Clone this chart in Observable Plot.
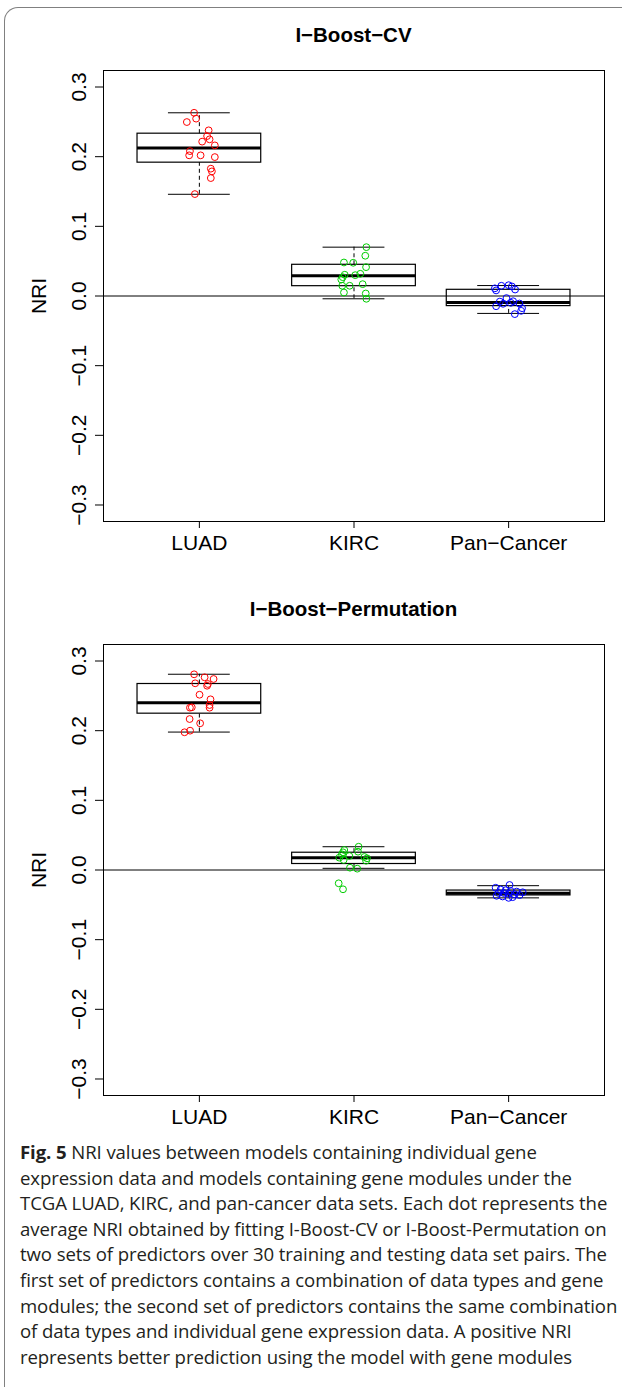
<!DOCTYPE html>
<html><head><meta charset="utf-8">
<script src="https://cdn.jsdelivr.net/npm/d3@7"></script>
<script src="https://cdn.jsdelivr.net/npm/@observablehq/plot@0.6"></script>
<style>
body{margin:0;background:#fff;}
#wrap{position:relative;width:622px;height:1387px;overflow:hidden;background:#fff;}
.frame{position:absolute;left:4px;top:7px;width:700px;height:1500px;border-left:1.5px solid #808080;border-top:1.5px solid #808080;border-top-left-radius:14px;}
.title{position:absolute;left:103px;width:501px;text-align:center;font-family:"Liberation Sans",Arial,sans-serif;font-weight:bold;font-size:20.5px;line-height:24px;color:#000;}
.panel{position:absolute;left:0;}
#caption{position:absolute;left:20px;top:1139px;font-family:"Open Sans",sans-serif;font-size:18.6px;line-height:25.6px;color:#231f20;white-space:nowrap;letter-spacing:-0.1px;}
#caption div{height:25.6px;}
</style>
</head><body><div id="wrap">
<div class="frame"></div>
<div class="title" style="top:23px">I−Boost−CV</div>
<div class="panel" id="p1" style="top:55px"></div>
<div class="title" style="top:597px">I−Boost−Permutation</div>
<div class="panel" id="p2" style="top:629px"></div>
<div id="caption"></div>
</div>
<script>
// categories and colours
const groups = ["LUAD", "KIRC", "Pan−Cancer"];
const groupColors = ["#FF0000", "#00CD00", "#0000FF"];
const yTicks = [-0.3, -0.2, -0.1, 0, 0.1, 0.2, 0.3];

// I-Boost-CV: NRI values per data set, horizontal jitter (in group units)
const cvLUAD = [0.263, 0.2546, 0.2497, 0.2378, 0.2296, 0.2249, 0.2216, 0.2162, 0.208, 0.2019, 0.2019, 0.1994, 0.1828, 0.1789, 0.1693, 0.1463];
const cvLUADJitter = [-0.034, -0.021, -0.081, 0.060, 0.050, 0.066, 0.018, 0.100, -0.061, -0.066, 0.008, 0.100, 0.074, 0.081, 0.074, -0.029];
const cvKIRC = [0.0701, 0.0578, 0.0481, 0.0477, 0.0414, 0.0319, 0.0305, 0.0299, 0.027, 0.0237, 0.017, 0.0147, 0.0147, 0.005, 0.0036, -0.004];
const cvKIRCJitter = [0.080, 0.073, -0.065, -0.005, 0.078, 0.041, -0.060, 0.008, -0.073, -0.082, 0.056, -0.028, -0.076, -0.065, 0.076, 0.080];
const cvPan = [0.0155, 0.0147, 0.0137, 0.011, 0.0093, 0.008, -0.003, -0.0075, -0.008, -0.0098, -0.0108, -0.0112, -0.0147, -0.0175, -0.0213, -0.026];
const cvPanJitter = [0.000, -0.047, 0.021, -0.089, 0.042, -0.081, -0.014, 0.029, -0.057, 0.014, 0.070, -0.036, -0.081, 0.087, 0.081, 0.040];
// box statistics [lower whisker, Q1, median, Q3, upper whisker]
const cvBoxLUAD = [0.146, 0.1914, 0.2124, 0.233, 0.263];
const cvBoxKIRC = [-0.004, 0.0141, 0.029, 0.0448, 0.0701];
const cvBoxPan = [-0.025, -0.0145, -0.0093, 0.0089, 0.015];

// I-Boost-Permutation
const permLUAD = [0.2809, 0.2766, 0.2742, 0.268, 0.2645, 0.267, 0.2516, 0.245, 0.2368, 0.233, 0.233, 0.2335, 0.2167, 0.2106, 0.2, 0.1977];
const permLUADJitter = [-0.034, 0.034, 0.092, -0.027, 0.050, 0.055, 0.001, 0.072, 0.066, 0.066, -0.061, -0.049, -0.063, 0.005, -0.060, -0.096];
const permKIRC = [0.0334, 0.0263, 0.0287, 0.0254, 0.0225, 0.0201, 0.0177, 0.0144, 0.0187, 0.0168, 0.0133, 0.0033, 0.0019, -0.0191, -0.0277];
const permKIRCJitter = [0.030, 0.026, -0.063, -0.071, -0.078, -0.030, -0.095, -0.067, 0.067, 0.084, 0.078, -0.026, 0.021, -0.099, -0.071];
const permPan = [-0.0215, -0.0255, -0.028, -0.029, -0.030, -0.031, -0.032, -0.033, -0.033, -0.034, -0.035, -0.036, -0.037, -0.038, -0.039, -0.040];
const permPanJitter = [0.006, -0.084, -0.052, -0.019, 0.013, 0.052, 0.091, -0.065, -0.032, 0.000, 0.039, 0.071, -0.078, -0.039, 0.026, 0.000];
const permBoxLUAD = [0.198, 0.2244, 0.240, 0.267, 0.281];
const permBoxKIRC = [0.0024, 0.0086, 0.0177, 0.0248, 0.0334];
const permBoxPan = [-0.040, -0.0365, -0.0335, -0.0295, -0.0225];

const captionLines = [
  ["Fig. 5", " NRI values between models containing individual gene"],
  ["", "expression data and models containing gene modules under the"],
  ["", "TCGA LUAD, KIRC, and pan-cancer data sets. Each dot represents the"],
  ["", "average NRI obtained by fitting I-Boost-CV or I-Boost-Permutation on"],
  ["", "two sets of predictors over 30 training and testing data set pairs. The"],
  ["", "first set of predictors contains a combination of data types and gene"],
  ["", "modules; the second set of predictors contains the same combination"],
  ["", "of data types and individual gene expression data. A positive NRI"],
  ["", "represents better prediction using the model with gene modules"]
];

function panel(values, jitters, stats) {
  const pts = [];
  groups.forEach((g, i) => values[i].forEach((v, j) => pts.push({pos: i + 1, xj: i + 1 + jitters[i][j], y: v, col: groupColors[i]})));
  const boxes = groups.map((g, i) => ({pos: i + 1, lo: stats[i][0], q1: stats[i][1], med: stats[i][2], q3: stats[i][3], hi: stats[i][4]}));
  return Plot.plot({
    width: 622, height: 509,
    marginTop: 15, marginBottom: 43, marginLeft: 103, marginRight: 18,
    x: {domain: [0.38, 3.62]},
    y: {domain: [-0.3237, 0.3237]},
    color: {type: "identity"},
    style: {fontFamily: "'Liberation Sans', Arial, sans-serif", fontSize: "21px", color: "black", background: "transparent"},
    marks: [
      Plot.ruleY([0], {stroke: "black", strokeWidth: 1}),
      Plot.ruleX(boxes, {x: "pos", y1: "q3", y2: "hi", stroke: "black", strokeDasharray: "4,3"}),
      Plot.ruleX(boxes, {x: "pos", y1: "lo", y2: "q1", stroke: "black", strokeDasharray: "4,3"}),
      Plot.ruleY(boxes, {y: "hi", x1: d => d.pos - 0.2, x2: d => d.pos + 0.2, stroke: "black"}),
      Plot.ruleY(boxes, {y: "lo", x1: d => d.pos - 0.2, x2: d => d.pos + 0.2, stroke: "black"}),
      Plot.rect(boxes, {x1: d => d.pos - 0.4, x2: d => d.pos + 0.4, y1: "q1", y2: "q3", stroke: "black", fill: "none", strokeWidth: 1.2}),
      Plot.ruleY(boxes, {y: "med", x1: d => d.pos - 0.4, x2: d => d.pos + 0.4, stroke: "black", strokeWidth: 3}),
      Plot.dot(pts, {x: "xj", y: "y", r: 3.4, stroke: "col", fill: "none", strokeWidth: 1}),
      Plot.frame({stroke: "black", strokeWidth: 1}),
      Plot.axisX({ticks: [1, 2, 3], tickFormat: i => groups[i - 1], tickSize: 7, tickPadding: 7, fontSize: 21, label: null}),
      Plot.axisY({ticks: yTicks, tickFormat: d3.format(".1f"), tickRotate: -90, tickSize: 8, tickPadding: 10, fontSize: 21,
                  label: "NRI", labelAnchor: "center", labelArrow: "none", labelOffset: 72})
    ]
  });
}

document.getElementById("p1").appendChild(panel([cvLUAD, cvKIRC, cvPan], [cvLUADJitter, cvKIRCJitter, cvPanJitter], [cvBoxLUAD, cvBoxKIRC, cvBoxPan]));
document.getElementById("p2").appendChild(panel([permLUAD, permKIRC, permPan], [permLUADJitter, permKIRCJitter, permPanJitter], [permBoxLUAD, permBoxKIRC, permBoxPan]));

const cap = document.getElementById("caption");
for (const [b, t] of captionLines) {
  const div = document.createElement("div");
  if (b) { const s = document.createElement("b"); s.textContent = b; div.appendChild(s); }
  div.appendChild(document.createTextNode(t));
  cap.appendChild(div);
}
</script>
</body></html>
